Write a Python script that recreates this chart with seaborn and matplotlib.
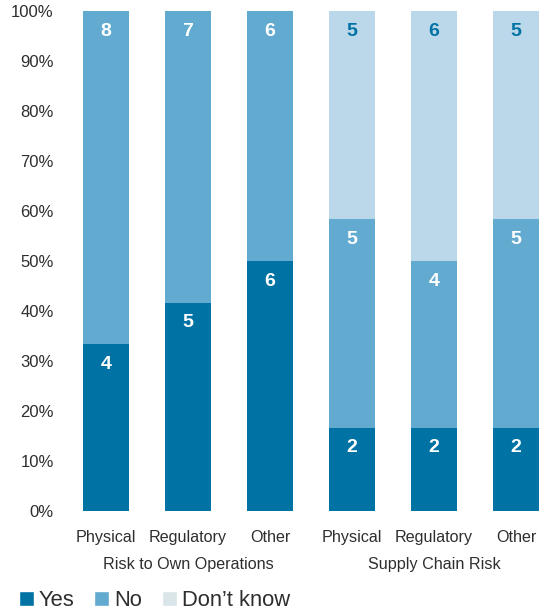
import matplotlib
matplotlib.use("Agg")
import matplotlib.pyplot as plt
from matplotlib.patches import Patch
import numpy as np
import pandas as pd
import seaborn as sns

# Survey counts per risk type
groups = ["Risk to Own Operations", "Supply Chain Risk"]
risk_types = ["Physical", "Regulatory", "Other"]
yes_counts = [4, 5, 6, 2, 2, 2]
no_counts = [8, 7, 6, 5, 4, 5]
dk_counts = [0, 0, 0, 5, 6, 5]

COL_YES = "#0072A4"
COL_NO = "#62AACF"
COL_DK = "#BBD8EA"
COL_DK_LEGEND = "#D9E5E9"
TEXT = "#2E2E2E"

sns.set_theme(style="white")
plt.rcParams["font.family"] = ["Liberation Sans", "DejaVu Sans"]

keys = [f"{g}|{r}" for g in groups for r in risk_types]
yes = np.array(yes_counts, float)
no = np.array(no_counts, float)
dk = np.array(dk_counts, float)
total = yes + no + dk
p_yes = yes / total * 100
p_no = no / total * 100
p_dk = dk / total * 100

df = pd.DataFrame({
    "key": keys,
    "yes": p_yes,
    "yes_no": p_yes + p_no,
    "all": p_yes + p_no + p_dk,
})

fig = plt.figure(figsize=(5.44, 6.11), dpi=100)
ax = fig.add_axes([62 / 544, 100 / 611, 1 - 62 / 544, 500 / 611])

# Layered bars give the stacked look
for col, color in [("all", COL_DK), ("yes_no", COL_NO), ("yes", COL_YES)]:
    sns.barplot(data=df, x="key", y=col, order=keys, color=color,
                width=0.56, saturation=1, linewidth=0, ax=ax)

# Count labels near the top of each segment
bottoms = [np.zeros(6), p_yes, p_yes + p_no]
heights = [p_yes, p_no, p_dk]
counts = [yes_counts, no_counts, dk_counts]
label_colors = ["white", "white", COL_YES]
for b, h, c, lc in zip(bottoms, heights, counts, label_colors):
    for i in range(6):
        if c[i] > 0:
            ax.text(i, b[i] + h[i] - 4.0, str(c[i]), ha="center", va="center",
                    fontsize=14, fontweight="bold", color=lc)

ax.set_ylim(0, 100)
ax.set_xlim((62 - 106) / 82, (544 - 106) / 82)
ax.set_yticks(np.arange(0, 101, 10))
ax.set_yticklabels([f"{v}%" for v in range(0, 101, 10)], fontsize=12, color=TEXT)
ax.set_xticks(range(6))
ax.set_xticklabels(risk_types * 2, fontsize=11.6, color=TEXT)
ax.tick_params(axis="both", length=0)
ax.tick_params(axis="x", pad=14)
ax.tick_params(axis="y", pad=6)
ax.set_xlabel("")
ax.set_ylabel("")
for s in ax.spines.values():
    s.set_visible(False)

# Group labels under the risk types
for gi, g in enumerate(groups):
    ax.text(gi * 3 + 1, -10.8, g, ha="center", va="center", fontsize=11.6,
            color=TEXT, transform=ax.transData, clip_on=False)

handles = [Patch(facecolor=COL_YES, label="Yes"),
           Patch(facecolor=COL_NO, label="No"),
           Patch(facecolor=COL_DK_LEGEND, label="Don\u2019t know")]
fig.legend(handles=handles, loc="lower left", bbox_to_anchor=(10 / 544, -9 / 611),
           ncol=3, frameon=False, fontsize=15.8, handlelength=0.68,
           handleheight=0.68, handletextpad=0.23, columnspacing=0.9,
           labelcolor=TEXT, borderaxespad=0.0)

fig.savefig("out.png", dpi=100)
